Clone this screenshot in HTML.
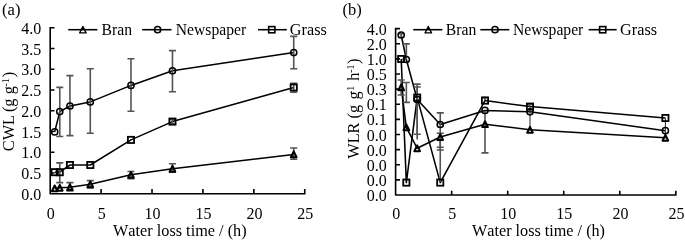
<!DOCTYPE html>
<html><head><meta charset="utf-8"><title>Water loss charts</title>
<style>
html,body{margin:0;padding:0;background:#fff;}
svg{display:block;font-family:"Liberation Serif","Times New Roman",serif;fill:#000;}
</style></head>
<body>
<svg width="685" height="241" viewBox="0 0 685 241">
<rect width="685" height="241" fill="#fff"/>
<path d="M50.2 26.9V193.8H305.55M50.2 27.70h4.3M50.2 48.46h4.3M50.2 69.23h4.3M50.2 89.99h4.3M50.2 110.75h4.3M50.2 131.51h4.3M50.2 152.28h4.3M50.2 173.04h4.3M101.11 193.8v-4.8M152.02 193.8v-4.8M202.93 193.8v-4.8M253.84 193.8v-4.8M304.75 193.8v-4.8" fill="none" stroke="#000" stroke-width="1.6" stroke-linejoin="round"/>
<text x="41.20" y="33.90" font-size="16" text-anchor="end" >4.0</text>
<text x="41.20" y="54.66" font-size="16" text-anchor="end" >3.5</text>
<text x="41.20" y="75.43" font-size="16" text-anchor="end" >3.0</text>
<text x="41.20" y="96.19" font-size="16" text-anchor="end" >2.5</text>
<text x="41.20" y="116.95" font-size="16" text-anchor="end" >2.0</text>
<text x="41.20" y="137.71" font-size="16" text-anchor="end" >1.5</text>
<text x="41.20" y="158.47" font-size="16" text-anchor="end" >1.0</text>
<text x="41.20" y="179.24" font-size="16" text-anchor="end" >0.5</text>
<text x="41.20" y="200.00" font-size="16" text-anchor="end" >0.0</text>
<text x="50.80" y="218.70" font-size="16" text-anchor="middle" >0</text>
<text x="101.71" y="218.70" font-size="16" text-anchor="middle" >5</text>
<text x="152.62" y="218.70" font-size="16" text-anchor="middle" >10</text>
<text x="203.53" y="218.70" font-size="16" text-anchor="middle" >15</text>
<text x="254.44" y="218.70" font-size="16" text-anchor="middle" >20</text>
<text x="305.35" y="218.70" font-size="16" text-anchor="middle" >25</text>
<text x="113.00" y="235.60" font-size="16.4" text-anchor="start" textLength="133.6" lengthAdjust="spacingAndGlyphs" style="font-kerning:none">Water loss time / (h)</text>
<text x="2.00" y="15.40" font-size="16.6" text-anchor="start" >(a)</text>
<text transform="translate(13.5 0) rotate(-90)" font-size="16.3"><tspan x="-151.2">CWL </tspan><tspan x="-112.07">(g </tspan><tspan x="-94.23">g</tspan><tspan x="-86.6" font-size="10.2" dy="-4.5">-1</tspan><tspan x="-77.3" dy="4.5">)</tspan></text>
<path d="M54.69 188.40L59.77 187.80L69.94 187.20L90.29 184.30L130.98 174.80L172.46 168.80L293.73 154.40" fill="none" stroke="#000" stroke-width="1.55" stroke-linejoin="round"/>
<path d="M54.69 131.90L59.77 111.60L69.94 106.00L90.29 101.90L130.98 85.40L172.46 70.80L293.73 52.60" fill="none" stroke="#000" stroke-width="1.55" stroke-linejoin="round"/>
<path d="M54.69 172.20L59.77 172.20L69.94 165.00L90.29 165.00L130.98 139.90L172.46 121.60L293.73 87.50" fill="none" stroke="#000" stroke-width="1.55" stroke-linejoin="round"/>
<path d="M59.77 87.40V136.50M56.27 87.40H63.27M56.27 136.50H63.27" fill="none" stroke="#545454" stroke-width="1.6"/>
<path d="M69.94 75.60V135.60M66.44 75.60H73.44M66.44 135.60H73.44" fill="none" stroke="#545454" stroke-width="1.6"/>
<path d="M90.29 68.80V133.30M86.79 68.80H93.79M86.79 133.30H93.79" fill="none" stroke="#545454" stroke-width="1.6"/>
<path d="M130.98 58.70V111.30M127.48 58.70H134.48M127.48 111.30H134.48" fill="none" stroke="#545454" stroke-width="1.6"/>
<path d="M172.46 50.60V91.70M168.96 50.60H175.96M168.96 91.70H175.96" fill="none" stroke="#545454" stroke-width="1.6"/>
<path d="M293.73 36.40V68.80M290.23 36.40H297.23M290.23 68.80H297.23" fill="none" stroke="#545454" stroke-width="1.6"/>
<path d="M59.77 162.90V182.60M56.27 162.90H63.27M56.27 182.60H63.27" fill="none" stroke="#545454" stroke-width="1.6"/>
<path d="M172.46 119.50V123.70M168.96 119.50H175.96M168.96 123.70H175.96" fill="none" stroke="#545454" stroke-width="1.6"/>
<path d="M293.73 83.40V92.30M290.23 83.40H297.23M290.23 92.30H297.23" fill="none" stroke="#545454" stroke-width="1.6"/>
<path d="M69.94 182.60V191.00M66.44 182.60H73.44M66.44 191.00H73.44" fill="none" stroke="#545454" stroke-width="1.6"/>
<path d="M90.29 180.60V188.00M86.79 180.60H93.79M86.79 188.00H93.79" fill="none" stroke="#545454" stroke-width="1.6"/>
<path d="M130.98 171.50V178.60M127.48 171.50H134.48M127.48 178.60H134.48" fill="none" stroke="#545454" stroke-width="1.6"/>
<path d="M172.46 163.70V172.30M168.96 163.70H175.96M168.96 172.30H175.96" fill="none" stroke="#545454" stroke-width="1.6"/>
<path d="M293.73 148.00V159.30M290.23 148.00H297.23M290.23 159.30H297.23" fill="none" stroke="#545454" stroke-width="1.6"/>
<path d="M51.84 191.30L54.69 185.50L57.54 191.30Z" fill="none" stroke="#000" stroke-width="2.0" stroke-linejoin="round"/>
<path d="M56.92 190.70L59.77 184.90L62.62 190.70Z" fill="none" stroke="#000" stroke-width="2.0" stroke-linejoin="round"/>
<path d="M67.09 190.10L69.94 184.30L72.79 190.10Z" fill="none" stroke="#000" stroke-width="2.0" stroke-linejoin="round"/>
<path d="M87.44 187.20L90.29 181.40L93.14 187.20Z" fill="none" stroke="#000" stroke-width="2.0" stroke-linejoin="round"/>
<path d="M128.13 177.70L130.98 171.90L133.83 177.70Z" fill="none" stroke="#000" stroke-width="2.0" stroke-linejoin="round"/>
<path d="M169.61 171.70L172.46 165.90L175.31 171.70Z" fill="none" stroke="#000" stroke-width="2.0" stroke-linejoin="round"/>
<path d="M290.88 157.30L293.73 151.50L296.58 157.30Z" fill="none" stroke="#000" stroke-width="2.0" stroke-linejoin="round"/>
<circle cx="54.69" cy="131.90" r="3.1" fill="none" stroke="#000" stroke-width="1.50"/>
<circle cx="59.77" cy="111.60" r="3.1" fill="none" stroke="#000" stroke-width="1.50"/>
<circle cx="69.94" cy="106.00" r="3.1" fill="none" stroke="#000" stroke-width="1.50"/>
<circle cx="90.29" cy="101.90" r="3.1" fill="none" stroke="#000" stroke-width="1.50"/>
<circle cx="130.98" cy="85.40" r="3.1" fill="none" stroke="#000" stroke-width="1.50"/>
<circle cx="172.46" cy="70.80" r="3.1" fill="none" stroke="#000" stroke-width="1.50"/>
<circle cx="293.73" cy="52.60" r="3.1" fill="none" stroke="#000" stroke-width="1.50"/>
<rect x="51.59" y="169.10" width="6.2" height="6.2" fill="none" stroke="#000" stroke-width="1.79"/>
<rect x="56.67" y="169.10" width="6.2" height="6.2" fill="none" stroke="#000" stroke-width="1.79"/>
<rect x="66.84" y="161.90" width="6.2" height="6.2" fill="none" stroke="#000" stroke-width="1.79"/>
<rect x="87.19" y="161.90" width="6.2" height="6.2" fill="none" stroke="#000" stroke-width="1.79"/>
<rect x="127.88" y="136.80" width="6.2" height="6.2" fill="none" stroke="#000" stroke-width="1.79"/>
<rect x="169.36" y="118.50" width="6.2" height="6.2" fill="none" stroke="#000" stroke-width="1.79"/>
<rect x="290.63" y="84.40" width="6.2" height="6.2" fill="none" stroke="#000" stroke-width="1.79"/>
<path d="M68.2 29.7H97.4" stroke="#000" stroke-width="1.55"/>
<path d="M79.70 32.90L82.90 26.50L86.10 32.90Z" fill="none" stroke="#000" stroke-width="1.4" stroke-linejoin="round"/>
<text x="101.50" y="35.30" font-size="15.8" text-anchor="start" textLength="30.5" lengthAdjust="spacingAndGlyphs">Bran</text>
<path d="M142.1 29.7H171.5" stroke="#000" stroke-width="1.55"/>
<circle cx="157.60" cy="29.70" r="3.1" fill="none" stroke="#000" stroke-width="1.50"/>
<text x="175.80" y="35.30" font-size="15.8" text-anchor="start" textLength="70.3" lengthAdjust="spacingAndGlyphs">Newspaper</text>
<path d="M258.0 29.7H286.8" stroke="#000" stroke-width="1.55"/>
<rect x="268.70" y="26.60" width="6.2" height="6.2" fill="none" stroke="#000" stroke-width="1.60"/>
<text x="289.80" y="35.30" font-size="15.8" text-anchor="start" textLength="37.0" lengthAdjust="spacingAndGlyphs">Grass</text>
<path d="M395.6 27.8V194.95H676.65M395.6 28.60h4.4M395.6 43.72h4.4M395.6 58.85h4.4M395.6 73.97h4.4M395.6 89.09h4.4M395.6 104.21h4.4M395.6 119.34h4.4M395.6 134.46h4.4M395.6 149.58h4.4M395.6 164.70h4.4M395.6 179.83h4.4M451.65 194.95v-4.2M507.70 194.95v-4.2M563.75 194.95v-4.2M619.80 194.95v-4.2M675.85 194.95v-4.2" fill="none" stroke="#000" stroke-width="1.6" stroke-linejoin="round"/>
<text x="386.80" y="34.70" font-size="16" text-anchor="end" >4.0</text>
<text x="386.80" y="49.82" font-size="16" text-anchor="end" >2.0</text>
<text x="386.80" y="64.95" font-size="16" text-anchor="end" >1.0</text>
<text x="386.80" y="80.07" font-size="16" text-anchor="end" >0.5</text>
<text x="386.80" y="95.19" font-size="16" text-anchor="end" >0.3</text>
<text x="386.80" y="110.31" font-size="16" text-anchor="end" >0.1</text>
<text x="386.80" y="125.44" font-size="16" text-anchor="end" >0.1</text>
<text x="386.80" y="140.56" font-size="16" text-anchor="end" >0.0</text>
<text x="386.80" y="155.68" font-size="16" text-anchor="end" >0.0</text>
<text x="386.80" y="170.80" font-size="16" text-anchor="end" >0.0</text>
<text x="386.80" y="185.93" font-size="16" text-anchor="end" >0.0</text>
<text x="386.80" y="201.05" font-size="16" text-anchor="end" >0.0</text>
<text x="396.20" y="219.40" font-size="16" text-anchor="middle" >0</text>
<text x="452.25" y="219.40" font-size="16" text-anchor="middle" >5</text>
<text x="508.30" y="219.40" font-size="16" text-anchor="middle" >10</text>
<text x="564.35" y="219.40" font-size="16" text-anchor="middle" >15</text>
<text x="620.40" y="219.40" font-size="16" text-anchor="middle" >20</text>
<text x="676.45" y="219.40" font-size="16" text-anchor="middle" >25</text>
<text x="472.00" y="236.20" font-size="16.4" text-anchor="start" textLength="133.0" lengthAdjust="spacingAndGlyphs" style="font-kerning:none">Water loss time / (h)</text>
<text x="342.50" y="15.40" font-size="16.5" text-anchor="start" >(b)</text>
<text transform="translate(358.6 0) rotate(-90)" font-size="16.3"><tspan x="-158.7">WLR (g </tspan><tspan x="-99.62">g</tspan><tspan x="-94.1" font-size="9.8" dy="-5.0">-1 </tspan><tspan x="-80.85" dy="5.0">h</tspan><tspan x="-72.8" font-size="9.8" dy="-5.0">-1</tspan><tspan x="-64.0" dy="5.0">)</tspan></text>
<path d="M401.20 87.40L406.35 127.40L417.20 148.30L440.25 137.00L485.00 124.20L530.00 129.80L665.40 137.80" fill="none" stroke="#000" stroke-width="1.55" stroke-linejoin="round"/>
<path d="M401.20 35.00L406.35 59.50L417.20 99.50L440.25 124.50L485.00 110.40L530.00 111.80L665.40 130.70" fill="none" stroke="#000" stroke-width="1.55" stroke-linejoin="round"/>
<path d="M401.20 59.00L406.35 182.60L417.20 97.60L440.25 182.60L485.00 100.60L530.00 106.60L665.40 118.00" fill="none" stroke="#000" stroke-width="1.55" stroke-linejoin="round"/>
<path d="M401.20 80.00V95.00M397.70 80.00H404.70M397.70 95.00H404.70" fill="none" stroke="#545454" stroke-width="1.6"/>
<path d="M401.20 33.80V37.00M397.70 33.80H404.70" fill="none" stroke="#545454" stroke-width="1.6"/>
<path d="M406.35 43.90V59.50M402.85 43.90H409.85" fill="none" stroke="#545454" stroke-width="1.6"/>
<path d="M406.35 82.50V102.40M402.85 82.50H409.85M402.85 102.40H409.85" fill="none" stroke="#545454" stroke-width="1.6"/>
<path d="M417.20 84.10V139.50M413.70 84.10H420.70" fill="none" stroke="#545454" stroke-width="1.6"/>
<path d="M417.20 87.00V134.30M413.70 87.00H420.70M413.70 134.30H420.70" fill="none" stroke="#545454" stroke-width="1.6"/>
<path d="M440.25 112.90V150.00M436.75 112.90H443.75M436.75 150.00H443.75" fill="none" stroke="#545454" stroke-width="1.6"/>
<path d="M440.25 133.30V182.00M436.75 133.30H443.75" fill="none" stroke="#545454" stroke-width="1.6"/>
<path d="M440.25 147.30V148.00M436.75 147.30H443.75" fill="none" stroke="#545454" stroke-width="1.6"/>
<path d="M485.00 111.00V152.90M481.50 152.90H488.50" fill="none" stroke="#545454" stroke-width="1.6"/>
<path d="M485.00 97.40V100.00M481.50 97.40H488.50" fill="none" stroke="#545454" stroke-width="1.6"/>
<path d="M530.00 104.70V129.00M526.50 104.70H533.50" fill="none" stroke="#3a3a3a" stroke-width="1.1"/>
<path d="M665.40 118.00V137.00" fill="none" stroke="#3a3a3a" stroke-width="1.1"/>
<path d="M398.35 90.30L401.20 84.50L404.05 90.30Z" fill="none" stroke="#000" stroke-width="2.0" stroke-linejoin="round"/>
<path d="M403.50 130.30L406.35 124.50L409.20 130.30Z" fill="none" stroke="#000" stroke-width="2.0" stroke-linejoin="round"/>
<path d="M414.35 151.20L417.20 145.40L420.05 151.20Z" fill="none" stroke="#000" stroke-width="2.0" stroke-linejoin="round"/>
<path d="M437.40 139.90L440.25 134.10L443.10 139.90Z" fill="none" stroke="#000" stroke-width="2.0" stroke-linejoin="round"/>
<path d="M482.15 127.10L485.00 121.30L487.85 127.10Z" fill="none" stroke="#000" stroke-width="2.0" stroke-linejoin="round"/>
<path d="M527.15 132.70L530.00 126.90L532.85 132.70Z" fill="none" stroke="#000" stroke-width="2.0" stroke-linejoin="round"/>
<path d="M662.55 140.70L665.40 134.90L668.25 140.70Z" fill="none" stroke="#000" stroke-width="2.0" stroke-linejoin="round"/>
<circle cx="401.20" cy="35.00" r="3.1" fill="none" stroke="#000" stroke-width="1.50"/>
<circle cx="406.35" cy="59.50" r="3.1" fill="none" stroke="#000" stroke-width="1.50"/>
<circle cx="417.20" cy="99.50" r="3.1" fill="none" stroke="#000" stroke-width="1.50"/>
<circle cx="440.25" cy="124.50" r="3.1" fill="none" stroke="#000" stroke-width="1.50"/>
<circle cx="485.00" cy="110.40" r="3.1" fill="none" stroke="#000" stroke-width="1.50"/>
<circle cx="530.00" cy="111.80" r="3.1" fill="none" stroke="#000" stroke-width="1.50"/>
<circle cx="665.40" cy="130.70" r="3.1" fill="none" stroke="#000" stroke-width="1.50"/>
<rect x="398.10" y="55.90" width="6.2" height="6.2" fill="none" stroke="#000" stroke-width="1.79"/>
<rect x="403.25" y="179.50" width="6.2" height="6.2" fill="none" stroke="#000" stroke-width="1.79"/>
<rect x="414.10" y="94.50" width="6.2" height="6.2" fill="none" stroke="#000" stroke-width="1.79"/>
<rect x="437.15" y="179.50" width="6.2" height="6.2" fill="none" stroke="#000" stroke-width="1.79"/>
<rect x="481.90" y="97.50" width="6.2" height="6.2" fill="none" stroke="#000" stroke-width="1.79"/>
<rect x="526.90" y="103.50" width="6.2" height="6.2" fill="none" stroke="#000" stroke-width="1.79"/>
<rect x="662.30" y="114.90" width="6.2" height="6.2" fill="none" stroke="#000" stroke-width="1.79"/>
<path d="M413.2 29.7H442.4" stroke="#000" stroke-width="1.55"/>
<path d="M425.10 32.90L428.30 26.50L431.50 32.90Z" fill="none" stroke="#000" stroke-width="1.4" stroke-linejoin="round"/>
<text x="445.80" y="35.30" font-size="15.8" text-anchor="start" textLength="30.5" lengthAdjust="spacingAndGlyphs">Bran</text>
<path d="M480.3 29.7H509.3" stroke="#000" stroke-width="1.55"/>
<circle cx="495.00" cy="29.70" r="3.1" fill="none" stroke="#000" stroke-width="1.50"/>
<text x="513.00" y="35.30" font-size="15.8" text-anchor="start" textLength="70.3" lengthAdjust="spacingAndGlyphs">Newspaper</text>
<path d="M588.6 29.7H616.7" stroke="#000" stroke-width="1.55"/>
<rect x="599.60" y="26.60" width="6.2" height="6.2" fill="none" stroke="#000" stroke-width="1.60"/>
<text x="620.10" y="35.30" font-size="15.8" text-anchor="start" textLength="37.0" lengthAdjust="spacingAndGlyphs">Grass</text>
</svg>
</body></html>
